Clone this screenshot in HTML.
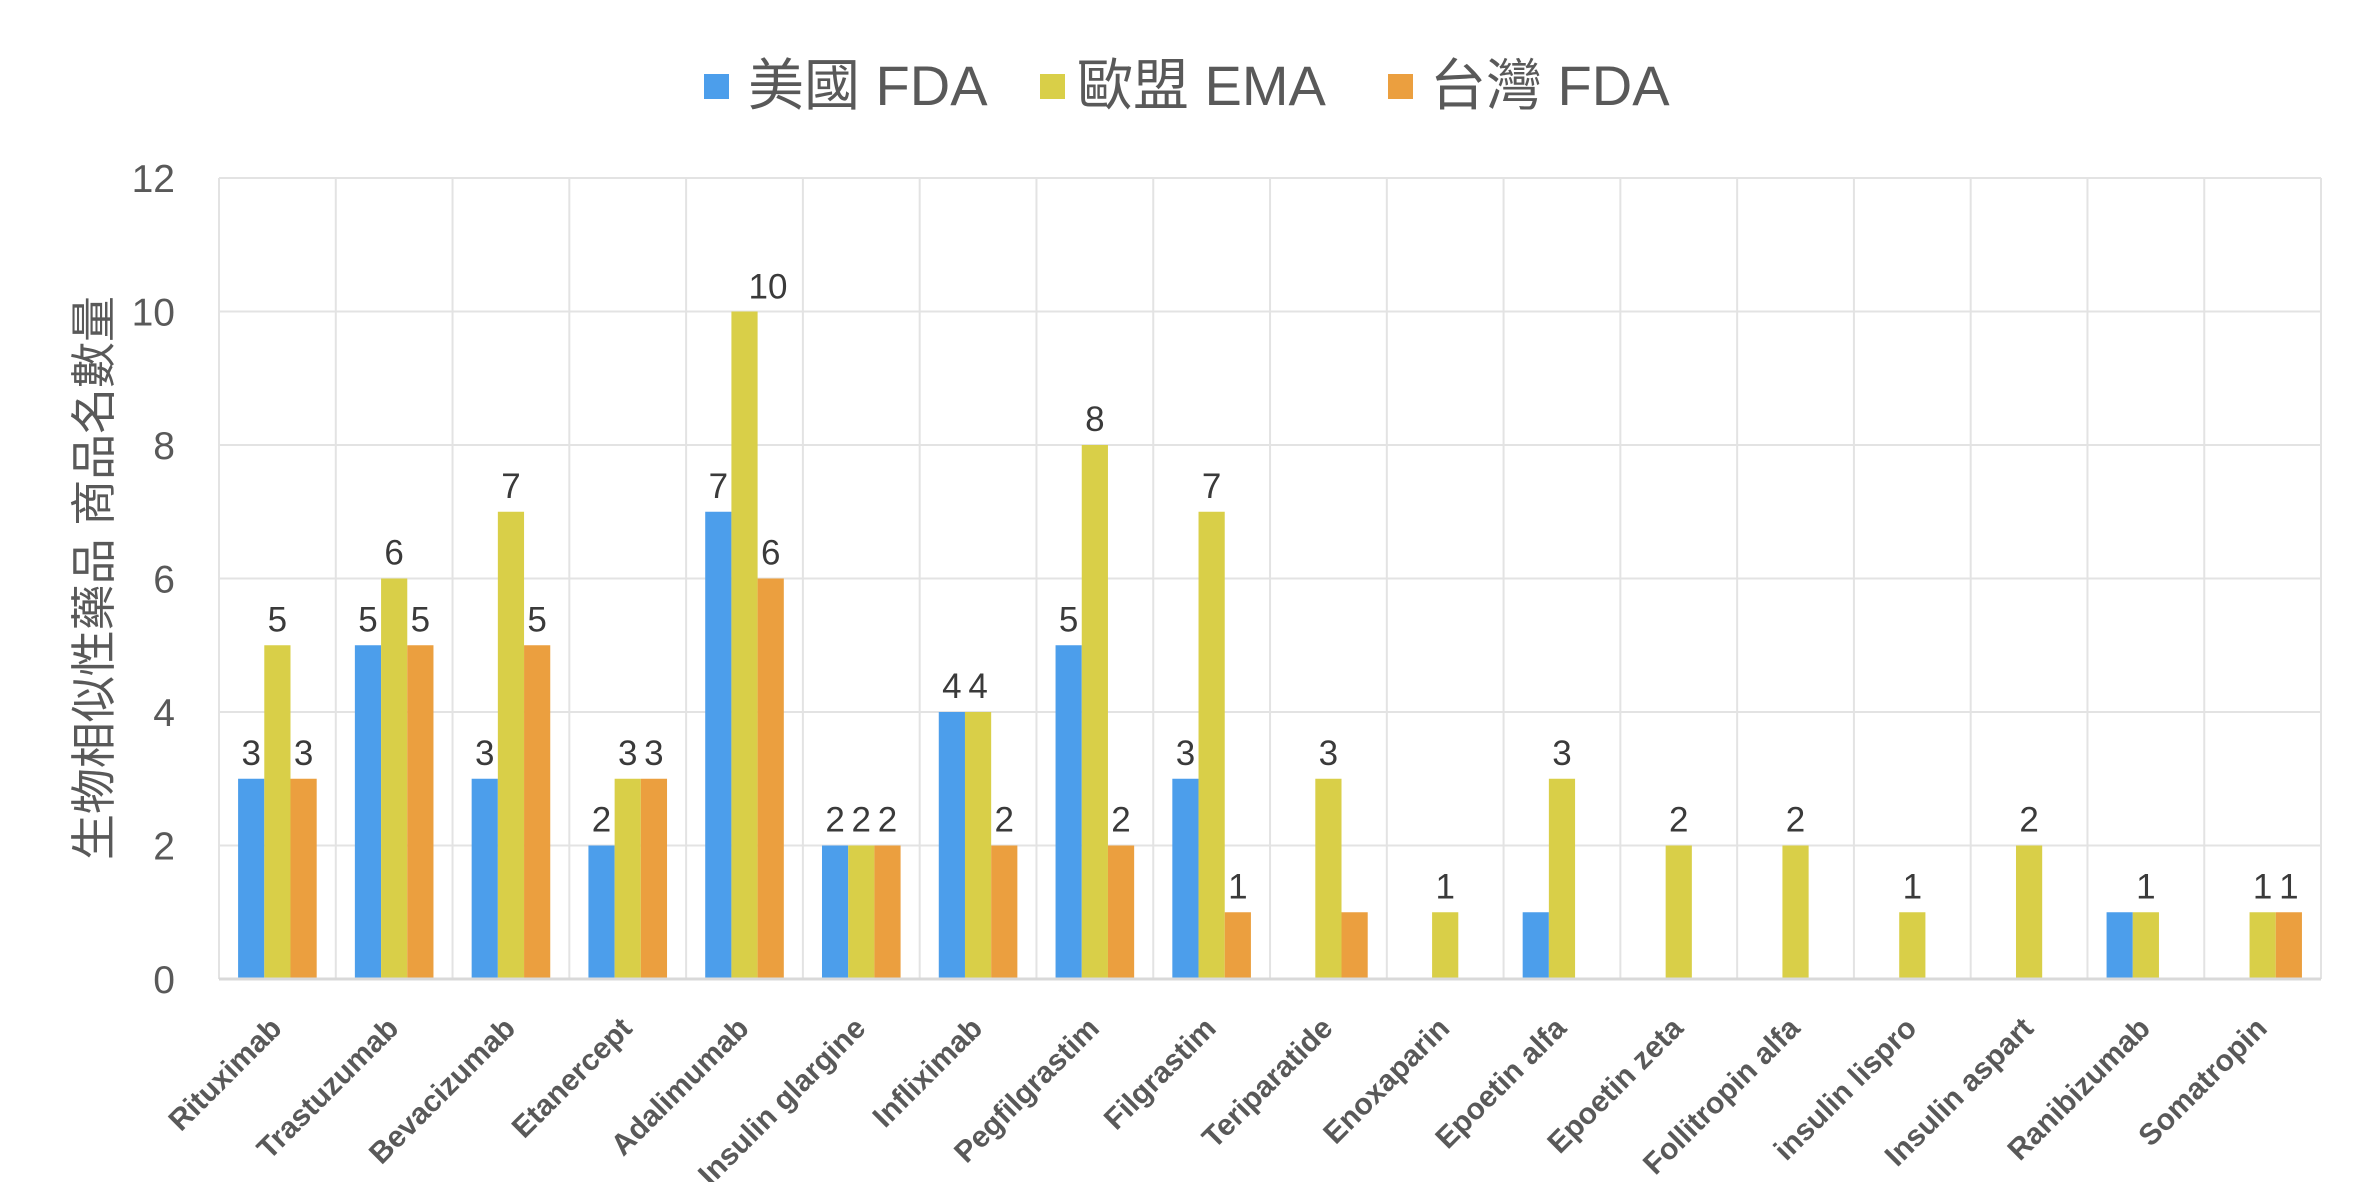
<!DOCTYPE html>
<html>
<head>
<meta charset="utf-8">
<style>
  html, body { margin: 0; padding: 0; background: #ffffff; }
  svg { display: block; }
  .lat { font-family: "Liberation Sans", "Noto Sans CJK TC", sans-serif; }
  .xl { font-size: 30px; font-weight: bold; fill: #595959; }
</style>
</head>
<body>
<svg width="2364" height="1182" viewBox="0 0 2364 1182" xmlns="http://www.w3.org/2000/svg">
  <rect x="0" y="0" width="2364" height="1182" fill="#ffffff"/>

  <!-- Legend -->
  <g class="lat" font-size="56" fill="#595959">
    <rect x="704" y="74" width="25" height="25" fill="#4C9EEB"/>
    <text x="748" y="105">美國 FDA</text>
    <rect x="1040" y="74" width="25" height="25" fill="#D9CF48"/>
    <text x="1077" y="105">歐盟 EMA</text>
    <rect x="1388" y="74" width="25" height="25" fill="#EB9F3F"/>
    <text x="1430" y="105">台灣 FDA</text>
  </g>

  <!-- Horizontal gridlines -->
  <g stroke="#e3e3e3" stroke-width="2">
    <line x1="219" y1="178" x2="2321" y2="178"/>
    <line x1="219" y1="311.5" x2="2321" y2="311.5"/>
    <line x1="219" y1="445" x2="2321" y2="445"/>
    <line x1="219" y1="578.5" x2="2321" y2="578.5"/>
    <line x1="219" y1="712" x2="2321" y2="712"/>
    <line x1="219" y1="845.5" x2="2321" y2="845.5"/>
  </g>
  <!-- Vertical gridlines -->
  <g stroke="#e3e3e3" stroke-width="2">
    <line x1="219" y1="178" x2="219" y2="979"/>
    <line x1="335.78" y1="178" x2="335.78" y2="979"/>
    <line x1="452.56" y1="178" x2="452.56" y2="979"/>
    <line x1="569.34" y1="178" x2="569.34" y2="979"/>
    <line x1="686.12" y1="178" x2="686.12" y2="979"/>
    <line x1="802.9" y1="178" x2="802.9" y2="979"/>
    <line x1="919.68" y1="178" x2="919.68" y2="979"/>
    <line x1="1036.46" y1="178" x2="1036.46" y2="979"/>
    <line x1="1153.24" y1="178" x2="1153.24" y2="979"/>
    <line x1="1270.02" y1="178" x2="1270.02" y2="979"/>
    <line x1="1386.8" y1="178" x2="1386.8" y2="979"/>
    <line x1="1503.58" y1="178" x2="1503.58" y2="979"/>
    <line x1="1620.36" y1="178" x2="1620.36" y2="979"/>
    <line x1="1737.14" y1="178" x2="1737.14" y2="979"/>
    <line x1="1853.92" y1="178" x2="1853.92" y2="979"/>
    <line x1="1970.7" y1="178" x2="1970.7" y2="979"/>
    <line x1="2087.48" y1="178" x2="2087.48" y2="979"/>
    <line x1="2204.26" y1="178" x2="2204.26" y2="979"/>
    <line x1="2321" y1="178" x2="2321" y2="979"/>
  </g>

  <!-- Y tick labels -->
  <g class="lat" font-size="39" fill="#595959" text-anchor="end">
    <text x="175" y="192">12</text>
    <text x="175" y="325.5">10</text>
    <text x="175" y="459">8</text>
    <text x="175" y="592.5">6</text>
    <text x="175" y="726">4</text>
    <text x="175" y="859.5">2</text>
    <text x="175" y="993">0</text>
  </g>

  <!-- Y axis title -->
  <text class="lat" font-size="46" fill="#595959" text-anchor="middle" dominant-baseline="central"
        transform="translate(94,578) rotate(-90)" textLength="564" lengthAdjust="spacing">生物相似性藥品 商品名數量</text>

  <!-- Bars + labels per category -->
  <g class="lat">
    <!-- 1 Rituximab 3,5,3 -->
    <g transform="translate(277.39,0)">
      <rect x="-39.3" y="778.75" width="26.2" height="200.25" fill="#4C9EEB"/>
      <rect x="-13.1" y="645.25" width="26.2" height="333.75" fill="#D9CF48"/>
      <rect x="13.1" y="778.75" width="26.2" height="200.25" fill="#EB9F3F"/>
      <g font-size="35" fill="#3a3a3a" text-anchor="middle">
        <text x="-26.2" y="764.75">3</text><text x="0" y="631.25">5</text><text x="26.2" y="764.75">3</text>
      </g>
      <text class="xl" transform="translate(6,1030) rotate(-45)" text-anchor="end">Rituximab</text>
    </g>
    <!-- 2 Trastuzumab 5,6,5 -->
    <g transform="translate(394.17,0)">
      <rect x="-39.3" y="645.25" width="26.2" height="333.75" fill="#4C9EEB"/>
      <rect x="-13.1" y="578.5" width="26.2" height="400.5" fill="#D9CF48"/>
      <rect x="13.1" y="645.25" width="26.2" height="333.75" fill="#EB9F3F"/>
      <g font-size="35" fill="#3a3a3a" text-anchor="middle">
        <text x="-26.2" y="631.25">5</text><text x="0" y="564.5">6</text><text x="26.2" y="631.25">5</text>
      </g>
      <text class="xl" transform="translate(6,1030) rotate(-45)" text-anchor="end">Trastuzumab</text>
    </g>
    <!-- 3 Bevacizumab 3,7,5 -->
    <g transform="translate(510.95,0)">
      <rect x="-39.3" y="778.75" width="26.2" height="200.25" fill="#4C9EEB"/>
      <rect x="-13.1" y="511.75" width="26.2" height="467.25" fill="#D9CF48"/>
      <rect x="13.1" y="645.25" width="26.2" height="333.75" fill="#EB9F3F"/>
      <g font-size="35" fill="#3a3a3a" text-anchor="middle">
        <text x="-26.2" y="764.75">3</text><text x="0" y="497.75">7</text><text x="26.2" y="631.25">5</text>
      </g>
      <text class="xl" transform="translate(6,1030) rotate(-45)" text-anchor="end">Bevacizumab</text>
    </g>
    <!-- 4 Etanercept 2,3,3 -->
    <g transform="translate(627.73,0)">
      <rect x="-39.3" y="845.5" width="26.2" height="133.5" fill="#4C9EEB"/>
      <rect x="-13.1" y="778.75" width="26.2" height="200.25" fill="#D9CF48"/>
      <rect x="13.1" y="778.75" width="26.2" height="200.25" fill="#EB9F3F"/>
      <g font-size="35" fill="#3a3a3a" text-anchor="middle">
        <text x="-26.2" y="831.5">2</text><text x="0" y="764.75">3</text><text x="26.2" y="764.75">3</text>
      </g>
      <text class="xl" transform="translate(6,1030) rotate(-45)" text-anchor="end">Etanercept</text>
    </g>
    <!-- 5 Adalimumab 7,10,6 -->
    <g transform="translate(744.51,0)">
      <rect x="-39.3" y="511.75" width="26.2" height="467.25" fill="#4C9EEB"/>
      <rect x="-13.1" y="311.5" width="26.2" height="667.5" fill="#D9CF48"/>
      <rect x="13.1" y="578.5" width="26.2" height="400.5" fill="#EB9F3F"/>
      <g font-size="35" fill="#3a3a3a" text-anchor="middle">
        <text x="-26.2" y="497.75">7</text><text x="23.5" y="298.5">10</text><text x="26.2" y="564.5">6</text>
      </g>
      <text class="xl" transform="translate(6,1030) rotate(-45)" text-anchor="end">Adalimumab</text>
    </g>
    <!-- 6 Insulin glargine 2,2,2 -->
    <g transform="translate(861.29,0)">
      <rect x="-39.3" y="845.5" width="26.2" height="133.5" fill="#4C9EEB"/>
      <rect x="-13.1" y="845.5" width="26.2" height="133.5" fill="#D9CF48"/>
      <rect x="13.1" y="845.5" width="26.2" height="133.5" fill="#EB9F3F"/>
      <g font-size="35" fill="#3a3a3a" text-anchor="middle">
        <text x="-26.2" y="831.5">2</text><text x="0" y="831.5">2</text><text x="26.2" y="831.5">2</text>
      </g>
      <text class="xl" transform="translate(6,1030) rotate(-45)" text-anchor="end">Insulin glargine</text>
    </g>
    <!-- 7 Infliximab 4,4,2 -->
    <g transform="translate(978.07,0)">
      <rect x="-39.3" y="712" width="26.2" height="267" fill="#4C9EEB"/>
      <rect x="-13.1" y="712" width="26.2" height="267" fill="#D9CF48"/>
      <rect x="13.1" y="845.5" width="26.2" height="133.5" fill="#EB9F3F"/>
      <g font-size="35" fill="#3a3a3a" text-anchor="middle">
        <text x="-26.2" y="698">4</text><text x="0" y="698">4</text><text x="26.2" y="831.5">2</text>
      </g>
      <text class="xl" transform="translate(6,1030) rotate(-45)" text-anchor="end">Infliximab</text>
    </g>
    <!-- 8 Pegfilgrastim 5,8,2 -->
    <g transform="translate(1094.85,0)">
      <rect x="-39.3" y="645.25" width="26.2" height="333.75" fill="#4C9EEB"/>
      <rect x="-13.1" y="445" width="26.2" height="534" fill="#D9CF48"/>
      <rect x="13.1" y="845.5" width="26.2" height="133.5" fill="#EB9F3F"/>
      <g font-size="35" fill="#3a3a3a" text-anchor="middle">
        <text x="-26.2" y="631.25">5</text><text x="0" y="431">8</text><text x="26.2" y="831.5">2</text>
      </g>
      <text class="xl" transform="translate(6,1030) rotate(-45)" text-anchor="end">Pegfilgrastim</text>
    </g>
    <!-- 9 Filgrastim 3,7,1 -->
    <g transform="translate(1211.63,0)">
      <rect x="-39.3" y="778.75" width="26.2" height="200.25" fill="#4C9EEB"/>
      <rect x="-13.1" y="511.75" width="26.2" height="467.25" fill="#D9CF48"/>
      <rect x="13.1" y="912.25" width="26.2" height="66.75" fill="#EB9F3F"/>
      <g font-size="35" fill="#3a3a3a" text-anchor="middle">
        <text x="-26.2" y="764.75">3</text><text x="0" y="497.75">7</text><text x="26.2" y="898.25">1</text>
      </g>
      <text class="xl" transform="translate(6,1030) rotate(-45)" text-anchor="end">Filgrastim</text>
    </g>
    <!-- 10 Teriparatide 0,3,1 -->
    <g transform="translate(1328.41,0)">
      <rect x="-13.1" y="778.75" width="26.2" height="200.25" fill="#D9CF48"/>
      <rect x="13.1" y="912.25" width="26.2" height="66.75" fill="#EB9F3F"/>
      <g font-size="35" fill="#3a3a3a" text-anchor="middle">
        <text x="0" y="764.75">3</text>
      </g>
      <text class="xl" transform="translate(6,1030) rotate(-45)" text-anchor="end">Teriparatide</text>
    </g>
    <!-- 11 Enoxaparin 0,1,0 -->
    <g transform="translate(1445.19,0)">
      <rect x="-13.1" y="912.25" width="26.2" height="66.75" fill="#D9CF48"/>
      <g font-size="35" fill="#3a3a3a" text-anchor="middle">
        <text x="0" y="898.25">1</text>
      </g>
      <text class="xl" transform="translate(6,1030) rotate(-45)" text-anchor="end">Enoxaparin</text>
    </g>
    <!-- 12 Epoetin alfa 1,3,0 -->
    <g transform="translate(1561.97,0)">
      <rect x="-39.3" y="912.25" width="26.2" height="66.75" fill="#4C9EEB"/>
      <rect x="-13.1" y="778.75" width="26.2" height="200.25" fill="#D9CF48"/>
      <g font-size="35" fill="#3a3a3a" text-anchor="middle">
        <text x="0" y="764.75">3</text>
      </g>
      <text class="xl" transform="translate(6,1030) rotate(-45)" text-anchor="end">Epoetin alfa</text>
    </g>
    <!-- 13 Epoetin zeta 0,2,0 -->
    <g transform="translate(1678.75,0)">
      <rect x="-13.1" y="845.5" width="26.2" height="133.5" fill="#D9CF48"/>
      <g font-size="35" fill="#3a3a3a" text-anchor="middle">
        <text x="0" y="831.5">2</text>
      </g>
      <text class="xl" transform="translate(6,1030) rotate(-45)" text-anchor="end">Epoetin zeta</text>
    </g>
    <!-- 14 Follitropin alfa 0,2,0 -->
    <g transform="translate(1795.53,0)">
      <rect x="-13.1" y="845.5" width="26.2" height="133.5" fill="#D9CF48"/>
      <g font-size="35" fill="#3a3a3a" text-anchor="middle">
        <text x="0" y="831.5">2</text>
      </g>
      <text class="xl" transform="translate(6,1030) rotate(-45)" text-anchor="end">Follitropin alfa</text>
    </g>
    <!-- 15 insulin lispro 0,1,0 -->
    <g transform="translate(1912.31,0)">
      <rect x="-13.1" y="912.25" width="26.2" height="66.75" fill="#D9CF48"/>
      <g font-size="35" fill="#3a3a3a" text-anchor="middle">
        <text x="0" y="898.25">1</text>
      </g>
      <text class="xl" transform="translate(6,1030) rotate(-45)" text-anchor="end">insulin lispro</text>
    </g>
    <!-- 16 Insulin aspart 0,2,0 -->
    <g transform="translate(2029.09,0)">
      <rect x="-13.1" y="845.5" width="26.2" height="133.5" fill="#D9CF48"/>
      <g font-size="35" fill="#3a3a3a" text-anchor="middle">
        <text x="0" y="831.5">2</text>
      </g>
      <text class="xl" transform="translate(6,1030) rotate(-45)" text-anchor="end">Insulin aspart</text>
    </g>
    <!-- 17 Ranibizumab 1,1,0 -->
    <g transform="translate(2145.87,0)">
      <rect x="-39.3" y="912.25" width="26.2" height="66.75" fill="#4C9EEB"/>
      <rect x="-13.1" y="912.25" width="26.2" height="66.75" fill="#D9CF48"/>
      <g font-size="35" fill="#3a3a3a" text-anchor="middle">
        <text x="0" y="898.25">1</text>
      </g>
      <text class="xl" transform="translate(6,1030) rotate(-45)" text-anchor="end">Ranibizumab</text>
    </g>
    <!-- 18 Somatropin 0,1,1 -->
    <g transform="translate(2262.65,0)">
      <rect x="-13.1" y="912.25" width="26.2" height="66.75" fill="#D9CF48"/>
      <rect x="13.1" y="912.25" width="26.2" height="66.75" fill="#EB9F3F"/>
      <g font-size="35" fill="#3a3a3a" text-anchor="middle">
        <text x="0" y="898.25">1</text><text x="26.2" y="898.25">1</text>
      </g>
      <text class="xl" transform="translate(6,1030) rotate(-45)" text-anchor="end">Somatropin</text>
    </g>
  </g>

  <!-- X axis line -->
  <line x1="219" y1="979" x2="2321" y2="979" stroke="#d9d9d9" stroke-width="3"/>
</svg>
</body>
</html>
